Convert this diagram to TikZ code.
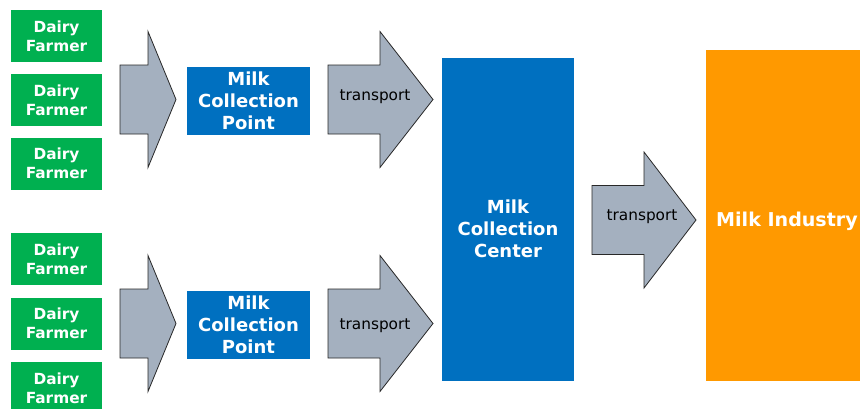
\documentclass[tikz,border=0pt]{standalone}
\usepackage{fontspec}
\setmainfont{DejaVu Sans}
\usepackage{tikz}
\usetikzlibrary{calc}

\definecolor{farmgreen}{RGB}{0,176,80}
\definecolor{milkblue}{RGB}{0,112,192}
\definecolor{industryorange}{RGB}{255,153,0}
\definecolor{arrowgray}{RGB}{164,176,191}
\definecolor{arrowline}{RGB}{40,40,40}

% block arrow: tail, tip, head length
\newcommand{\blockarrow}[3]{%
  \draw[flowarrow] ($(#1)+(0,-34.5)$) -- ($(#2)+(-#3,-34.5)$) -- ($(#2)+(-#3,-68)$)
    -- (#2) -- ($(#2)+(-#3,68)$) -- ($(#2)+(-#3,34.5)$) -- ($(#1)+(0,34.5)$) -- cycle;}

\begin{document}
\begin{tikzpicture}[x=0.75pt, y=-0.75pt,
				farmer/.style={fill=farmgreen, text=white, align=center, inner sep=0pt,
					minimum width=68.25pt, minimum height=39pt,
					font=\fontsize{11.5}{14.5}\selectfont\bfseries},
				point/.style={fill=milkblue, text=white, align=center, inner sep=0pt,
					minimum width=92.25pt, minimum height=51pt,
					font=\fontsize{13.5}{16.5}\selectfont\bfseries},
				center/.style={point, minimum width=99pt, minimum height=242.25pt},
				boxlabel/.style={text=white, align=center, inner sep=0pt,
					font=\fontsize{13.5}{16.5}\selectfont\bfseries},
				industry/.style={fill=industryorange, text=white, inner sep=0pt,
					minimum width=121.5pt, minimum height=248.25pt,
					font=\fontsize{14.3}{17}\selectfont\bfseries},
				flowarrow/.style={fill=arrowgray, draw=arrowline, line width=0.6pt, line join=miter},
				translabel/.style={font=\fontsize{11.5}{14}\selectfont, inner sep=0pt}]
				\useasboundingbox (0,0) rectangle (860,408);
				% farmers
				\node at (56.5,36) (fa1) [farmer] {Dairy\\Farmer};
				\node at (56.5,100) (fa2) [farmer] {Dairy\\Farmer};
				\node at (56.5,163.5) (fa3) [farmer] {Dairy\\Farmer};
				\node at (56.5,259) (fb1) [farmer] {Dairy\\Farmer};
				\node at (56.5,323.5) (fb2) [farmer] {Dairy\\Farmer};
				\node at (56.5,388) (fb3) [farmer] {Dairy\\Farmer};
				% collection
				\node at (248.5,101) (pa) [point] {Milk\\Collection\\Point};
				\node at (248.5,325) (pb) [point] {Milk\\Collection\\Point};
				\node at (508,219.5) (cc) [center] {};
				\node at (508,229) (cclbl) [boxlabel] {Milk\\Collection\\Center};
				\node at (787,215.5) (mi) [industry] {};
				\node at (787,221) (milbl) [boxlabel, font=\fontsize{14.3}{17}\selectfont\bfseries] {Milk Industry};
				% arrow ends
				\coordinate (a1) at (120,99.5);
				\coordinate (a1tip) at (176,99.5);
				\coordinate (a2) at (120,323.5);
				\coordinate (a2tip) at (176,323.5);
				\coordinate (t1) at (328,99.5);
				\coordinate (t1tip) at (433,99.5);
				\coordinate (t2) at (328,323.5);
				\coordinate (t2tip) at (433,323.5);
				\coordinate (t3) at (592,220);
				\coordinate (t3tip) at (696,220);
				\blockarrow{a1}{a1tip}{28}
				\blockarrow{a2}{a2tip}{28}
				\blockarrow{t1}{t1tip}{53}
				\blockarrow{t2}{t2tip}{53}
				\blockarrow{t3}{t3tip}{52}
				\node at (375,97) (t1lbl) [translabel] {transport};
				\node at (375,326) (t2lbl) [translabel] {transport};
				\node at (642,217) (t3lbl) [translabel] {transport};
			\end{tikzpicture}
\end{document}
